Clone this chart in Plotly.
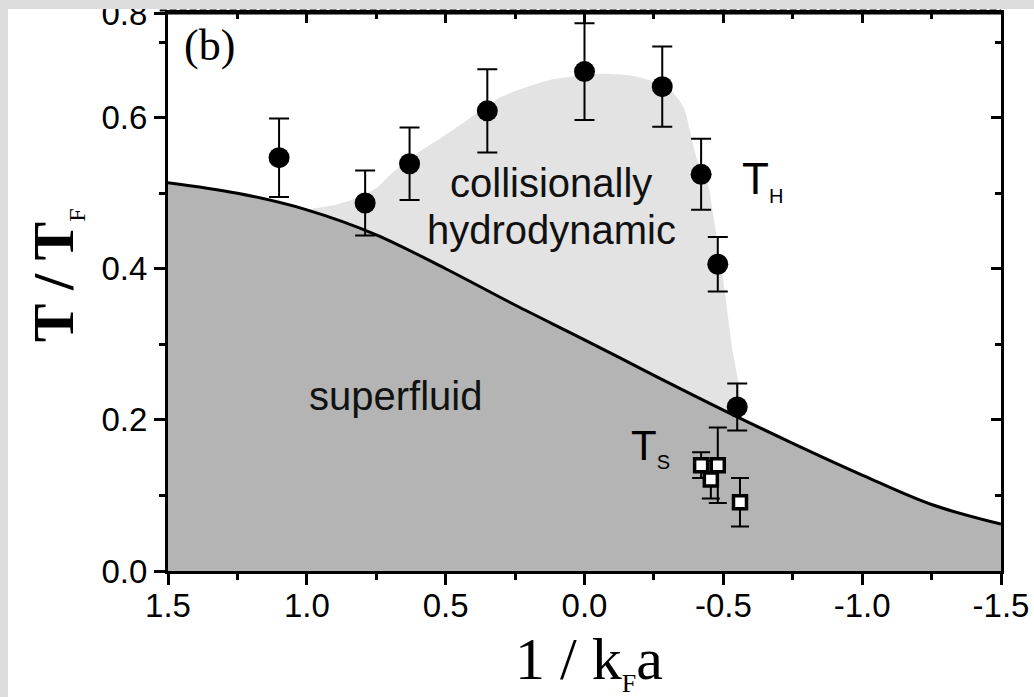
import plotly.graph_objects as go

# T_H: onset of collisionally hydrodynamic behaviour (filled circles)
th_x = [1.10, 0.79, 0.63, 0.35, 0.00, -0.28, -0.42, -0.48, -0.55]
th_T = [0.547, 0.487, 0.539, 0.609, 0.661, 0.641, 0.525, 0.406, 0.217]
th_err = [0.052, 0.043, 0.048, 0.055, 0.064, 0.053, 0.047, 0.036, 0.031]

# T_S: superfluid transition points (open squares)
ts_x = [-0.42, -0.48, -0.455, -0.56]
ts_T = [0.140, 0.140, 0.121, 0.091]
ts_err = [0.017, 0.050, 0.025, 0.032]

# critical temperature curve bounding the superfluid region
tc_x = [1.5, 1.25, 1.0, 0.75, 0.5, 0.25, 0.0, -0.25, -0.5, -0.75, -1.0, -1.25, -1.5]
tc_T = [0.514, 0.500, 0.478, 0.445, 0.400, 0.352, 0.306, 0.259, 0.213, 0.169, 0.127, 0.088, 0.062]

# upper edge of the collisionally hydrodynamic region
hd_x = [1.01, 0.905, 0.808, 0.746, 0.689, 0.602, 0.530, 0.422, 0.303, 0.122, -0.058,
        -0.177, -0.300, -0.357, -0.382, -0.405, -0.444, -0.465, -0.501, -0.533, -0.555, -0.57]
hd_T = [0.478, 0.484, 0.495, 0.508, 0.528, 0.553, 0.570, 0.597, 0.627, 0.650, 0.658,
        0.655, 0.640, 0.614, 0.579, 0.545, 0.513, 0.468, 0.381, 0.292, 0.248, 0.200]

x_ticks = [1.5, 1.0, 0.5, 0.0, -0.5, -1.0, -1.5]
x_ticktext = ["1.5", "1.0", "0.5", "0.0", "-0.5", "-1.0", "-1.5"]
y_ticks = [0.0, 0.2, 0.4, 0.6, 0.738]
y_ticktext = ["0.0", "0.2", "0.4", "0.6", "0.8"]

X_RANGE = [1.5, -1.5]
Y_RANGE = [0.0, 0.7385]

SANS = "Liberation Sans, Arial, sans-serif"
SERIF = "Liberation Serif, Times New Roman, serif"

fig = go.Figure()

fig.add_trace(go.Scatter(
    x=hd_x, y=hd_T, mode="lines", line=dict(width=0, shape="spline", smoothing=0.6),
    fill="tozeroy", fillcolor="#e3e3e3", hoverinfo="skip", showlegend=False))

fig.add_trace(go.Scatter(
    x=tc_x, y=tc_T, mode="lines", line=dict(color="black", width=3, shape="spline"),
    fill="tozeroy", fillcolor="#b4b4b4", showlegend=False))

fig.add_trace(go.Scatter(
    x=th_x, y=th_T, mode="markers",
    marker=dict(symbol="circle", size=21, color="black"),
    error_y=dict(type="data", array=th_err, color="black", thickness=2, width=10),
    showlegend=False))

fig.add_trace(go.Scatter(
    x=ts_x, y=ts_T, mode="markers",
    marker=dict(symbol="square", size=13, color="white", line=dict(color="black", width=3.5)),
    error_y=dict(type="data", array=ts_err, color="black", thickness=2, width=9),
    showlegend=False))

# companion axes for the inward ticks on the top and right frame
fig.add_trace(go.Scatter(x=[], y=[], xaxis="x2", yaxis="y2", showlegend=False))

axis_common = dict(showgrid=False, zeroline=False, showline=True, linecolor="black",
                   linewidth=3, tickcolor="black", tickwidth=2.5, automargin=False)

fig.update_layout(
    width=1034, height=697,
    margin=dict(l=168, r=33, t=13, b=126),
    paper_bgcolor="#dcdcdc", plot_bgcolor="white",
    xaxis=dict(range=X_RANGE, tickmode="array", tickvals=x_ticks, ticktext=x_ticktext,
               ticks="outside", ticklen=11, ticklabelstandoff=-8,
               minor=dict(tickmode="linear", tick0=0, dtick=0.25, ticks="outside",
                          ticklen=6, tickwidth=2.5, tickcolor="black"),
               tickfont=dict(family=SANS, size=33, color="black"), **axis_common),
    yaxis=dict(range=Y_RANGE, tickmode="array", tickvals=y_ticks, ticktext=y_ticktext,
               ticks="outside", ticklen=11, ticklabeloverflow="allow",
               minor=dict(tickmode="linear", tick0=0, dtick=0.1, ticks="outside",
                          ticklen=6, tickwidth=2.5, tickcolor="black"),
               tickfont=dict(family=SANS, size=33, color="black"), **axis_common),
    xaxis2=dict(range=X_RANGE, overlaying="x", side="top", anchor="y",
                tickmode="array", tickvals=x_ticks, showticklabels=False,
                ticks="inside", ticklen=10,
                minor=dict(tickmode="linear", tick0=0, dtick=0.25, ticks="inside",
                           ticklen=6, tickwidth=2.5, tickcolor="black"),
                **axis_common),
    yaxis2=dict(range=Y_RANGE, overlaying="y", side="right", anchor="x",
                tickmode="array", tickvals=y_ticks, showticklabels=False,
                ticks="inside", ticklen=10,
                minor=dict(tickmode="linear", tick0=0, dtick=0.1, ticks="inside",
                           ticklen=6, tickwidth=2.5, tickcolor="black"),
                **axis_common),
)

annotations = [
    dict(text="(b)", x=1.35, y=0.695, xref="x", yref="y", showarrow=False,
         font=dict(family=SERIF, size=44, color="black")),
    dict(text="collisionally", x=0.122, y=0.513, xref="x", yref="y", showarrow=False,
         font=dict(family=SANS, size=40, color="#111111")),
    dict(text="hydrodynamic", x=0.119, y=0.451, xref="x", yref="y", showarrow=False,
         font=dict(family=SANS, size=40, color="#111111")),
    dict(text="superfluid", x=0.681, y=0.232, xref="x", yref="y", showarrow=False,
         font=dict(family=SANS, size=40, color="#111111")),
    dict(text="T<sub><span style='font-size:20px'>H</span></sub>", x=-0.559, y=0.517,
         xref="x", yref="y", xanchor="left", showarrow=False,
         font=dict(family=SANS, size=44, color="black")),
    dict(text="T<sub><span style='font-size:20px'>S</span></sub>", x=-0.162, y=0.164,
         xref="x", yref="y", xanchor="left", showarrow=False,
         font=dict(family=SANS, size=42, color="black")),
    dict(text="<b>T / T</b><sub><span style='font-size:24px'>F</span></sub>", textangle=-90,
         x=-0.1357, y=0.53, xref="paper", yref="paper", xanchor="center", yanchor="middle",
         showarrow=False, font=dict(family=SERIF, size=58, color="black")),
    dict(text="1 / k<sub><span style='font-size:26px'>F</span></sub>a",
         x=0.505, y=-0.163, xref="paper", yref="paper", xanchor="center", yanchor="middle",
         showarrow=False, font=dict(family=SERIF, size=60, color="black")),
]
fig.update_layout(annotations=annotations)

fig.update_layout(shapes=[
    # white page area, leaving grey strips along the top and left edges
    dict(type="rect", xref="paper", yref="paper", x0=-0.1921, x1=1.2, y0=-0.4, y1=1.0072,
         fillcolor="white", line=dict(width=0), layer="below"),
    # grey strip across the top edge (drawn over the overflowing top label)
    dict(type="rect", xref="paper", yref="paper", x0=-0.25, x1=1.2, y0=1.0072, y1=1.04,
         fillcolor="#dcdcdc", line=dict(width=0), layer="above"),
    # top frame and the broken rule just above it
    dict(type="line", xref="paper", yref="paper", x0=-0.0018, x1=1.0018, y0=1.0, y1=1.0,
         line=dict(color="black", width=3), layer="above"),
    dict(type="line", xref="paper", yref="paper", x0=-0.01, x1=1.0, y0=1.0045, y1=1.0045,
         line=dict(color="black", width=2, dash="7px,3px"), layer="above"),
])

fig.write_html("out.html")
